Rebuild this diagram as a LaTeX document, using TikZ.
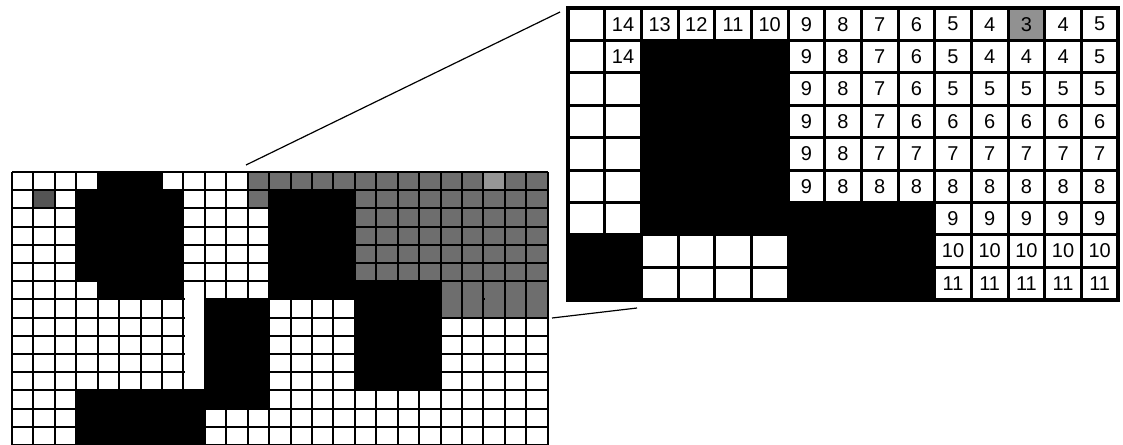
\documentclass[tikz,border=0pt]{standalone}
\usepackage{fontspec}
\setmainfont{Liberation Sans}
\usepackage{xcolor}
\begin{document}
\begin{tikzpicture}[x=1pt,y=-1pt,
  visited/.style={fill=black!57},
  wall/.style={fill=black},
  cellno/.style={font=\fontsize{20}{20}\selectfont,inner sep=0pt}]
\useasboundingbox (0,0) rectangle (1123,444);
%whole map, cut at the bottom
\begin{scope}[shift={(12,172)},x=21.43pt,y=-18.2pt]
\clip (-0.1,-0.1) rectangle (25.1,15.2);
\fill[white] (0,0) rectangle (25,16);
\fill[visited] (11,0) rectangle (25,1) (11,1) rectangle (12,2) (16,1) rectangle (25,6) (20,6) rectangle (25,8);
\fill[black!41] (22,0) rectangle (23,1);
\fill[black!67] (1,1) rectangle (2,2);
\fill[wall] (4,0) rectangle (7,1) (3,1) rectangle (8,6) (4,6) rectangle (8,7)
 (12,1) rectangle (16,7) (16,6) rectangle (20,12) (9,7) rectangle (12,12)
 (3,12) rectangle (12,13) (3,13) rectangle (9,16);
\foreach \c in {0,...,25} \draw[line width=2pt] (\c,0)--(\c,16);
\foreach \r in {0,...,16} \draw[line width=2pt] (0,\r)--(25,\r);
\fill[white] (8.05,6.055) rectangle (8.95,11.945);
\foreach \c in {20,...,24} \fill[visited] (\c+0.05,6.055) rectangle (\c+0.95,7.945);
\end{scope}
%zoomed part with distances
\begin{scope}[shift={(568,8)},x=36.67pt,y=-32.4pt]
\fill[white] (0,0) rectangle (15,9);
\fill[black!43] (12,0) rectangle (13,1);
\fill[wall] (2,1) rectangle (6,7) (6,6) rectangle (10,9) (0,7) rectangle (2,9);
\foreach \c in {1,...,14} \draw[line width=3pt] (\c,0)--(\c,9);
\foreach \r in {1,...,8} \draw[line width=3pt] (0,\r)--(15,\r);
\draw[line width=4pt] (0,0) rectangle (15,9);
\foreach \r/\row in {
 0/{1/14,2/13,3/12,4/11,5/10,6/9,7/8,8/7,9/6,10/5,11/4,12/3,13/4,14/5},
 1/{1/14,6/9,7/8,8/7,9/6,10/5,11/4,12/4,13/4,14/5},
 2/{6/9,7/8,8/7,9/6,10/5,11/5,12/5,13/5,14/5},
 3/{6/9,7/8,8/7,9/6,10/6,11/6,12/6,13/6,14/6},
 4/{6/9,7/8,8/7,9/7,10/7,11/7,12/7,13/7,14/7},
 5/{6/9,7/8,8/8,9/8,10/8,11/8,12/8,13/8,14/8},
 6/{10/9,11/9,12/9,13/9,14/9},
 7/{10/10,11/10,12/10,13/10,14/10},
 8/{10/11,11/11,12/11,13/11,14/11}}
  \foreach \c/\v in \row \node[cellno] (n\r-\c) at (\c+0.5,\r+0.5) {\v};
\end{scope}
\coordinate (lensA) at (246,165);
\coordinate (lensB) at (560,12);
\coordinate (lensC) at (552,318);
\coordinate (lensD) at (637,308);
\draw[line width=1.2pt] (lensA)--(lensB) (lensC)--(lensD);
\end{tikzpicture}
\end{document}
